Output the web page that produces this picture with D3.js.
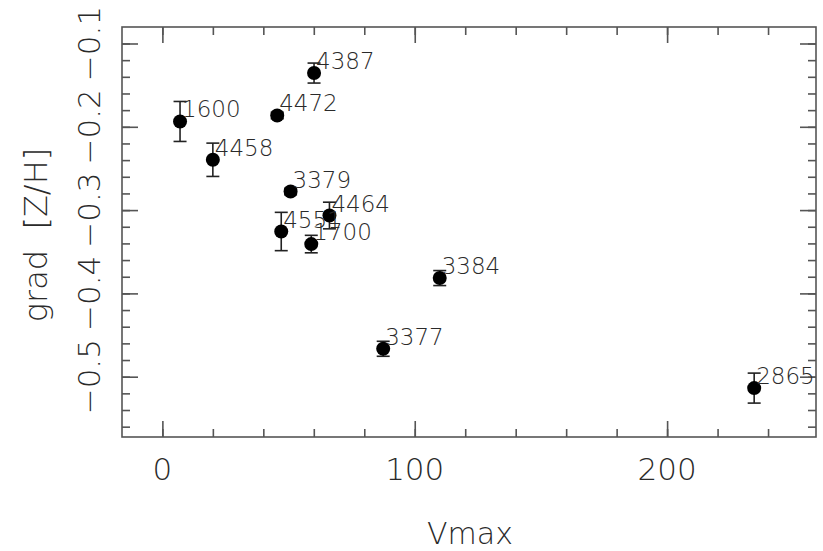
<!DOCTYPE html>
<html>
<head>
<meta charset="utf-8">
<script src="https://cdn.jsdelivr.net/npm/d3@7"></script>
<style>
  html, body { margin: 0; padding: 0; background: #fff; }
  svg { display: block; }
  text { font-family: "DejaVu Sans", sans-serif; font-weight: 200; fill: #2a2a2a; white-space: pre; }
</style>
</head>
<body>
<svg id="chart" width="823" height="551"></svg>
<script>
// ---- data ----
const galaxies = ["1600", "4458", "4472", "4387", "3379", "4464", "4551", "1700", "3384", "3377", "2865"];
const vmax     = [7.0, 20.0, 45.5, 60.1, 50.8, 66.2, 47.1, 59.0, 109.9, 87.5, 234.5];
const gradZH   = [-0.1936, -0.2396, -0.1864, -0.1355, -0.2777, -0.3065, -0.3257, -0.3408, -0.3816, -0.4665, -0.5137];
const gradErr  = [0.024, 0.020, 0.004, 0.012, 0.004, 0.016, 0.023, 0.0105, 0.009, 0.009, 0.018];

const xMajorTicks = [0, 100, 200];
const xMinorTicks = [0, 20, 40, 60, 80, 100, 120, 140, 160, 180, 200, 220, 240];
const yMajorTicks = [-0.5, -0.4, -0.3, -0.2, -0.1];
const yMinorTicks = [-0.56, -0.54, -0.52, -0.5, -0.48, -0.46, -0.44, -0.42, -0.4, -0.38, -0.36, -0.34, -0.32, -0.3,
                     -0.28, -0.26, -0.24, -0.22, -0.2, -0.18, -0.16, -0.14, -0.12, -0.1];
const xTitle = "Vmax";
const yTitle = "grad  [Z/H]";

// ---- layout ----
const L = 122, T = 27, R = 816, B = 437;
const svg = d3.select("#chart");
const x = d3.scaleLinear().domain([-16, 259.0]).range([L, R]);
const y = d3.scaleLinear().domain([-0.5724, -0.0802]).range([B, T]);
const fmtY = d3.format(".1f");

const axisColor = "#555";
const axisW = 1.6;

// frame
svg.append("rect")
  .attr("x", L).attr("y", T).attr("width", R - L).attr("height", B - T)
  .attr("fill", "none").attr("stroke", axisColor).attr("stroke-width", axisW);

// axes via d3 axis generators (ticks only, labels drawn separately)
function tickAxis(gen, scale, vals, size, transform) {
  const g = svg.append("g").attr("transform", transform)
    .call(gen(scale).tickValues(vals).tickSize(size).tickFormat(""));
  g.select(".domain").remove();
  g.selectAll(".tick line").attr("stroke", axisColor).attr("stroke-width", axisW);
  return g;
}
tickAxis(d3.axisBottom, x, xMinorTicks, -8, `translate(0,${B})`);
tickAxis(d3.axisBottom, x, xMajorTicks, -16, `translate(0,${B})`);
tickAxis(d3.axisTop, x, xMinorTicks, -8, `translate(0,${T})`);
tickAxis(d3.axisTop, x, xMajorTicks, -16, `translate(0,${T})`);
tickAxis(d3.axisLeft, y, yMinorTicks, -8, `translate(${L},0)`);
tickAxis(d3.axisLeft, y, yMajorTicks, -16, `translate(${L},0)`);
tickAxis(d3.axisRight, y, yMinorTicks, -8, `translate(${R},0)`);
tickAxis(d3.axisRight, y, yMajorTicks, -16, `translate(${R},0)`);

// x tick labels
svg.append("g").selectAll("text").data(xMajorTicks).join("text")
  .attr("x", d => x(d)).attr("y", 480)
  .attr("text-anchor", "middle").attr("font-size", 31)
  .text(d => d);

// y tick labels (rotated)
svg.append("g").selectAll("text").data(yMajorTicks).join("text")
  .attr("transform", d => `translate(100,${y(d)}) rotate(-90)`)
  .attr("text-anchor", "middle").attr("font-size", 31)
  .text(d => fmtY(d));

// axis titles
svg.append("text").attr("x", 470).attr("y", 544)
  .attr("text-anchor", "middle").attr("font-size", 30).text(xTitle);
svg.append("text").attr("transform", `translate(47,235) rotate(-90)`)
  .attr("text-anchor", "middle").attr("font-size", 32).text(yTitle);

// data
const pts = galaxies.map((n, i) => ({ n, v: vmax[i], g: gradZH[i], e: gradErr[i] }));
const eb = svg.append("g").attr("stroke", "#222").attr("stroke-width", 1.6);
pts.forEach(p => {
  eb.append("line").attr("x1", x(p.v)).attr("x2", x(p.v)).attr("y1", y(p.g + p.e)).attr("y2", y(p.g - p.e));
  eb.append("line").attr("x1", x(p.v) - 6.5).attr("x2", x(p.v) + 6.5).attr("y1", y(p.g + p.e)).attr("y2", y(p.g + p.e));
  eb.append("line").attr("x1", x(p.v) - 6.5).attr("x2", x(p.v) + 6.5).attr("y1", y(p.g - p.e)).attr("y2", y(p.g - p.e));
});
svg.append("g").selectAll("circle").data(pts).join("circle")
  .attr("cx", d => x(d.v)).attr("cy", d => y(d.g)).attr("r", 7).attr("fill", "#000");
svg.append("g").selectAll("text").data(pts).join("text")
  .attr("x", d => x(d.v) + 2).attr("y", d => y(d.g) - 4)
  .attr("font-size", 23).text(d => d.n);
</script>
</body>
</html>
